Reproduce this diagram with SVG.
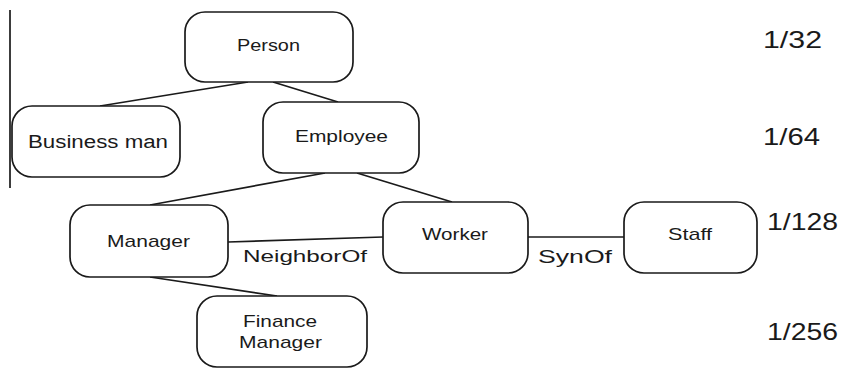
<svg xmlns="http://www.w3.org/2000/svg" width="844" height="369" viewBox="0 0 844 369">
<style>
.box{fill:#fff;stroke:#1a1a1a;stroke-width:1.7}
.ln{stroke:#1a1a1a;stroke-width:1.7;fill:none}
text{font-family:"Liberation Sans",Arial,sans-serif;fill:#1a1a1a}
.n{font-size:17px}
.lvl{font-size:24px}
</style>
<rect width="844" height="369" fill="#fff"/>
<line x1="10" y1="10" x2="10" y2="188" class="ln"/>
<g id="connectors">
<line x1="248" y1="82" x2="100" y2="106" class="ln"/>
<line x1="273" y1="82" x2="338" y2="102" class="ln"/>
<line x1="325" y1="173" x2="150" y2="205" class="ln"/>
<line x1="357" y1="173" x2="452" y2="202" class="ln"/>
<line x1="150" y1="277" x2="277" y2="296" class="ln"/>
<line x1="228" y1="242" x2="383" y2="237" class="ln"/>
<line x1="528" y1="237" x2="624" y2="237" class="ln"/>
<text x="243" y="262" class="n" textLength="124" lengthAdjust="spacingAndGlyphs">NeighborOf</text>
<text x="538" y="263" class="n" style="font-size:18px" textLength="74" lengthAdjust="spacingAndGlyphs">SynOf</text>
</g>
<g id="person">
<rect x="185" y="12" width="168" height="70" rx="20" class="box"/>
<text x="237" y="51" class="n" textLength="63" lengthAdjust="spacingAndGlyphs">Person</text>
</g>
<g id="businessman">
<rect x="12" y="106" width="168" height="71" rx="20" class="box"/>
<text x="28" y="148" class="n" style="font-size:18px" textLength="140" lengthAdjust="spacingAndGlyphs">Business man</text>
</g>
<g id="employee">
<rect x="263" y="102" width="156" height="71" rx="20" class="box"/>
<text x="295" y="142" class="n" textLength="93" lengthAdjust="spacingAndGlyphs">Employee</text>
</g>
<g id="manager">
<rect x="70" y="205" width="158" height="72" rx="20" class="box"/>
<text x="107" y="247" class="n" textLength="83" lengthAdjust="spacingAndGlyphs">Manager</text>
</g>
<g id="worker">
<rect x="383" y="202" width="145" height="71" rx="20" class="box"/>
<text x="422" y="240" class="n" textLength="66" lengthAdjust="spacingAndGlyphs">Worker</text>
</g>
<g id="staff">
<rect x="624" y="202" width="133" height="71" rx="20" class="box"/>
<text x="668" y="240" class="n" textLength="44" lengthAdjust="spacingAndGlyphs">Staff</text>
</g>
<g id="financemanager">
<rect x="197" y="296" width="170" height="71" rx="20" class="box"/>
<text x="243" y="327" class="n" textLength="74" lengthAdjust="spacingAndGlyphs">Finance</text>
<text x="239" y="348" class="n" textLength="83" lengthAdjust="spacingAndGlyphs">Manager</text>
</g>
<g id="levels">
<text x="763" y="48" class="lvl" textLength="59" lengthAdjust="spacingAndGlyphs">1/32</text>
<text x="763" y="145" class="lvl" textLength="57" lengthAdjust="spacingAndGlyphs">1/64</text>
<text x="767" y="230" class="lvl" textLength="71" lengthAdjust="spacingAndGlyphs">1/128</text>
<text x="767" y="340" class="lvl" textLength="71" lengthAdjust="spacingAndGlyphs">1/256</text>
</g>
</svg>
